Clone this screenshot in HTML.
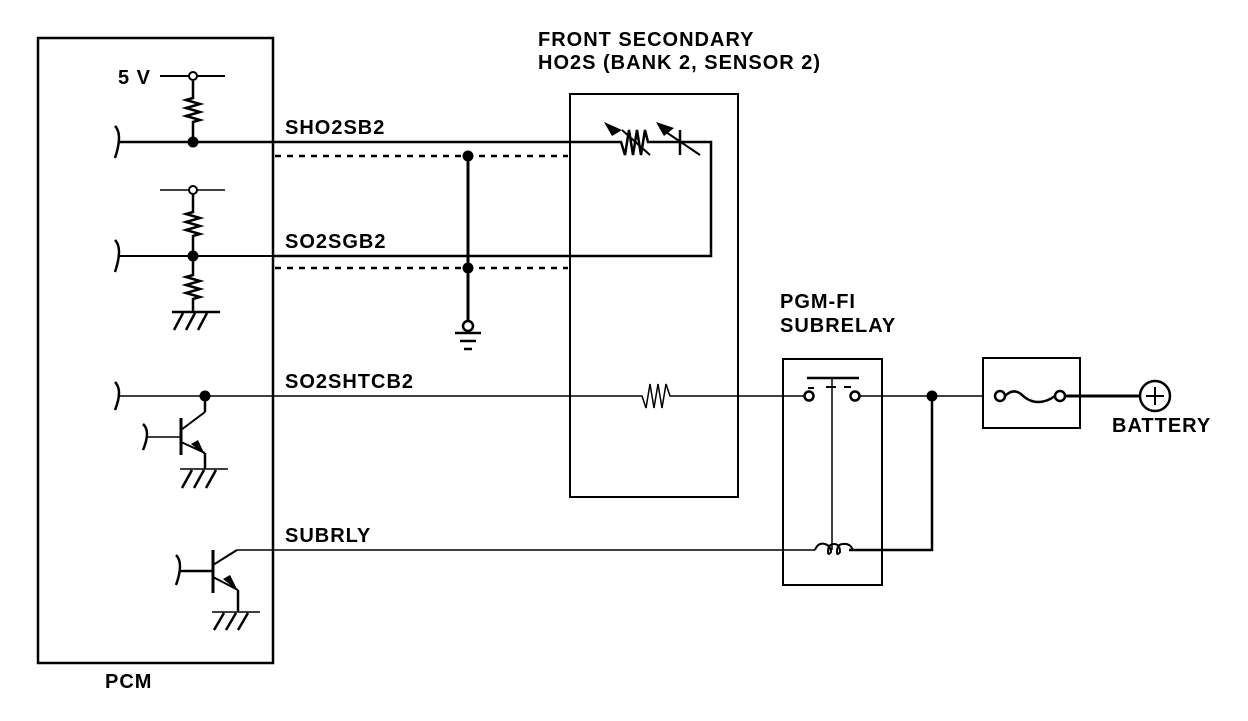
<!DOCTYPE html>
<html><head><style>
body{margin:0;background:#fff}
svg text{font-family:"Liberation Sans",Arial,sans-serif;font-weight:bold;font-size:20px;letter-spacing:1px;fill:#000}
</style></head><body>
<svg width="1248" height="716" viewBox="0 0 1248 716" xmlns="http://www.w3.org/2000/svg">
<g fill="none" stroke="#000" stroke-width="2">
<!-- boxes -->
<rect x="38" y="38" width="235" height="625" stroke-width="2.5"/>
<rect x="570" y="94" width="168" height="403"/>
<rect x="783" y="359" width="99" height="226"/>
<rect x="983" y="358" width="97" height="70"/>
<!-- 5V -->
<line x1="160" y1="76" x2="189" y2="76"/><line x1="197" y1="76" x2="225" y2="76"/>
<circle cx="193" cy="76" r="4"/>
<polyline points="193,80 193,98 186,100 200,104 186,108 200,112 186,116 200,120 193,122 193,142" stroke-width="2.5"/>
<!-- SHO2SB2 line -->
<path d="M115,126 q8,8 0,32" stroke-width="2.5"/>
<line x1="118" y1="142" x2="617" y2="142" stroke-width="2.5"/>
<polyline points="617,142 621,142 625,155 629,130 633,155 637,130 641,155 645,130 648,142 680,142 711,142 711,256 273,256" stroke-width="2.5"/>
<line x1="622" y1="130" x2="650" y2="155"/>
<line x1="680" y1="130" x2="680" y2="155" stroke-width="2.5"/>
<line x1="660" y1="128" x2="700" y2="155"/>
<line x1="273" y1="256" x2="118" y2="256" stroke-width="2"/>
<path d="M115,240 q8,8 0,32" stroke-width="2.5"/>
<!-- dashed -->
<line x1="275" y1="156" x2="568" y2="156" stroke-dasharray="6,6" stroke-width="2.5"/>
<line x1="275" y1="268" x2="568" y2="268" stroke-dasharray="6,6" stroke-width="2.5"/>
<line x1="468" y1="156" x2="468" y2="321" stroke-width="3"/>
<circle cx="468" cy="326" r="5" stroke-width="2.5"/>
<line x1="455" y1="333" x2="481" y2="333" stroke-width="2.5"/><line x1="460" y1="341" x2="476" y2="341" stroke-width="2.5"/><line x1="464" y1="349" x2="472" y2="349" stroke-width="2.5"/>
<!-- second divider -->
<line x1="160" y1="190" x2="189" y2="190" stroke-width="1.5"/><line x1="197" y1="190" x2="225" y2="190" stroke-width="1.5"/>
<circle cx="193" cy="190" r="4"/>
<polyline points="193,194 193,212 186,214 200,218 186,222 200,226 186,230 200,234 193,236 193,256" stroke-width="2.5"/>
<polyline points="193,256 193,275 186,277 200,281 186,285 200,289 186,293 200,297 193,299 193,312" stroke-width="2.5"/>
<line x1="172" y1="312" x2="220" y2="312" stroke-width="2.5"/>
<line x1="183" y1="313" x2="174" y2="330" stroke-width="2.5"/><line x1="195" y1="313" x2="186" y2="330" stroke-width="2.5"/><line x1="207" y1="313" x2="198" y2="330" stroke-width="2.5"/>
<!-- SO2SHTCB2 -->
<path d="M115,382 q8,8 0,28" stroke-width="2.5"/>
<polyline points="118,396 638,396 642,396 646,408 650,384 654,408 658,384 662,408 666,384 670,396 805,396" stroke-width="1.5"/>
<circle cx="809" cy="396" r="4.5" stroke-width="2.5"/><circle cx="855" cy="396" r="4.5" stroke-width="2.5"/>
<line x1="859" y1="396" x2="982" y2="396" stroke-width="1.5"/>
<line x1="807" y1="378" x2="859" y2="378" stroke-width="2.5"/>
<line x1="808" y1="388" x2="814" y2="388"/><line x1="826" y1="387" x2="836" y2="387"/><line x1="844" y1="387" x2="851" y2="387"/>
<line x1="832" y1="378" x2="832" y2="550" stroke-width="1.5"/>
<!-- transistor1 -->
<line x1="205" y1="396" x2="205" y2="412" stroke-width="2.5"/><line x1="205" y1="412" x2="181" y2="430"/>
<line x1="181" y1="418" x2="181" y2="455" stroke-width="3"/>
<path d="M143,424 q8,7 0,26" stroke-width="2.5"/>
<line x1="146" y1="437" x2="181" y2="437" stroke-width="1.5"/>
<line x1="181" y1="442" x2="205" y2="453"/><line x1="205" y1="453" x2="205" y2="469" stroke-width="2.5"/>
<line x1="180" y1="469" x2="228" y2="469" stroke-width="1.5"/>
<line x1="192" y1="470" x2="182" y2="488" stroke-width="2.5"/><line x1="204" y1="470" x2="194" y2="488" stroke-width="2.5"/><line x1="216" y1="470" x2="206" y2="488" stroke-width="2.5"/>
<!-- transistor2 -->
<line x1="213" y1="550" x2="213" y2="593" stroke-width="3"/>
<path d="M176,555 q8,8 0,30" stroke-width="2.5"/>
<line x1="180" y1="571" x2="213" y2="571" stroke-width="2.5"/>
<line x1="213" y1="565" x2="237" y2="550"/>
<line x1="237" y1="550" x2="815" y2="550" stroke-width="1.5"/>
<line x1="213" y1="577" x2="238" y2="590"/><line x1="238" y1="590" x2="238" y2="612" stroke-width="2.5"/>
<line x1="212" y1="612" x2="260" y2="612" stroke-width="1.5"/>
<line x1="224" y1="613" x2="214" y2="630" stroke-width="2.5"/><line x1="236" y1="613" x2="226" y2="630" stroke-width="2.5"/><line x1="248" y1="613" x2="238" y2="630" stroke-width="2.5"/>
<!-- coil -->
<path d="M815,550 q3,-8 10,-6 q6,2 6,8 q-3,4 -3,0 q0,-8 6,-8 q6,0 6,8 q-3,4 -3,0 q0,-8 6,-8 q7,-1 10,6" stroke-width="2"/>
<polyline points="849,550 932,550 932,396" stroke-width="2.5"/>
<!-- fuse -->
<circle cx="1000" cy="396" r="5" stroke-width="2.5"/><circle cx="1060" cy="396" r="5" stroke-width="2.5"/>
<path d="M1005,396 q8,-8 16,-2 q8,8 17,8 q9,0 17,-6" stroke-width="2.5"/>
<line x1="1065" y1="396" x2="1140" y2="396" stroke-width="3"/>
<circle cx="1155" cy="396" r="15" stroke-width="2.5"/>
<line x1="1146" y1="396" x2="1164" y2="396"/><line x1="1155" y1="387" x2="1155" y2="405"/>
</g>
<g fill="#000">
<circle cx="193" cy="142" r="5.5"/><circle cx="193" cy="256" r="5.5"/>
<circle cx="468" cy="156" r="5.5"/><circle cx="468" cy="268" r="5.5"/>
<circle cx="205" cy="396" r="5.5"/><circle cx="932" cy="396" r="5.5"/>
<polygon points="604,122 622,130 612,136"/>
<polygon points="656,122 674,128 664,136"/>
<polygon points="205,455 191,444 198,440"/>
<polygon points="238,591 223,579 230,575"/>
</g>
<text x="118" y="84">5 V</text>
<text x="285" y="134">SHO2SB2</text>
<text x="285" y="248">SO2SGB2</text>
<text x="285" y="388">SO2SHTCB2</text>
<text x="285" y="542">SUBRLY</text>
<text x="538" y="46">FRONT SECONDARY</text>
<text x="538" y="69">HO2S (BANK 2, SENSOR 2)</text>
<text x="780" y="308">PGM-FI</text>
<text x="780" y="332">SUBRELAY</text>
<text x="1112" y="432">BATTERY</text>
<text x="105" y="688">PCM</text>
</svg>
</body></html>
